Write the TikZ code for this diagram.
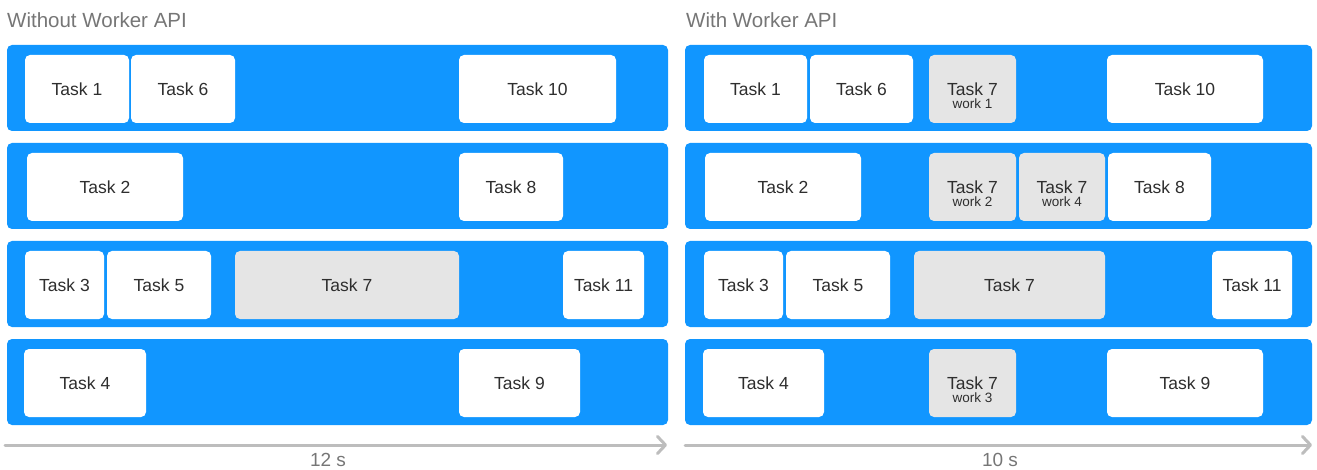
\documentclass[tikz,border=0pt]{standalone}
\usepackage{fontspec}
\setmainfont{Liberation Sans}
\usetikzlibrary{arrows.meta}
\definecolor{laneblue}{HTML}{1196FF}
\definecolor{taskgray}{HTML}{E5E5E5}
\definecolor{tasktext}{HTML}{2E2E2E}
\definecolor{titlegray}{HTML}{767676}
\definecolor{axisgray}{HTML}{BDBDBD}
\tikzset{
  lane/.style={fill=laneblue, draw=none, rounded corners=5pt},
  task/.style={fill=white, draw=none, rounded corners=5pt, inner sep=0pt, outer sep=0pt,
    minimum height=68pt, text=tasktext, font=\fontsize{17.5}{20}\selectfont},
  graytask/.style={task, fill=taskgray},
  worklbl/.style={text=tasktext, font=\fontsize{13.5}{15}\selectfont, inner sep=0pt},
  title/.style={text=titlegray, font=\fontsize{20.5}{24}\selectfont, anchor=west, inner sep=0pt},
  axislbl/.style={text=titlegray, font=\fontsize{19}{22}\selectfont, inner sep=0pt},
  axis/.style={draw=axisgray, line width=3pt, line cap=round,
    -{Straight Barb[length=8pt, width=17pt, line width=3pt, round]}}
}
\newcommand\tbox[6]{\node[#2, minimum width=#4pt-#3pt] (#1) at ({(#3+#4)/2}, #5) {#6};}
\begin{document}
\begin{tikzpicture}[x=1pt, y=-1pt]
\useasboundingbox (0,0) rectangle (1317,470);
% titles
\node[title] (tl) at (7,20) {Without Worker API};
\node[title] (tr) at (686,20) {With Worker API};
% lanes
\foreach \yy in {45,143,241,339} {
  \fill[lane] (7,\yy) rectangle (668,\yy+86);
  \fill[lane] (685,\yy) rectangle (1312,\yy+86);
}
% left tasks
\tbox{l1}{task}{25}{129}{89}{Task 1}
\tbox{l6}{task}{131}{235}{89}{Task 6}
\tbox{l10}{task}{459}{616}{89}{Task 10}
\tbox{l2}{task}{27}{183}{187}{Task 2}
\tbox{l8}{task}{459}{563}{187}{Task 8}
\tbox{l3}{task}{25}{104}{285}{Task 3}
\tbox{l5}{task}{107}{211}{285}{Task 5}
\tbox{l7}{graytask}{235}{459}{285}{Task 7}
\tbox{l11}{task}{563}{644}{285}{Task 11}
\tbox{l4}{task}{24}{146}{383}{Task 4}
\tbox{l9}{task}{459}{580}{383}{Task 9}
% right tasks
\tbox{r1}{task}{704}{807}{89}{Task 1}
\tbox{r6}{task}{810}{913}{89}{Task 6}
\tbox{rw1}{graytask}{929}{1016}{89}{Task 7}
\tbox{r10}{task}{1107}{1263}{89}{Task 10}
\tbox{r2}{task}{705}{861}{187}{Task 2}
\tbox{rw2}{graytask}{929}{1016}{187}{Task 7}
\tbox{rw4}{graytask}{1019}{1105}{187}{Task 7}
\tbox{r8}{task}{1108}{1211}{187}{Task 8}
\tbox{r3}{task}{704}{783}{285}{Task 3}
\tbox{r5}{task}{786}{890}{285}{Task 5}
\tbox{r7}{graytask}{914}{1105}{285}{Task 7}
\tbox{r11}{task}{1212}{1292}{285}{Task 11}
\tbox{r4}{task}{703}{824}{383}{Task 4}
\tbox{rw3}{graytask}{929}{1016}{383}{Task 7}
\tbox{r9}{task}{1107}{1263}{383}{Task 9}
% work labels
\node[worklbl] (w1) at ([yshift=-15pt]rw1.center) {work 1};
\node[worklbl] (w2) at ([yshift=-15pt]rw2.center) {work 2};
\node[worklbl] (w4) at ([yshift=-15pt]rw4.center) {work 4};
\node[worklbl] (w3) at ([yshift=-15pt]rw3.center) {work 3};
% axes
\coordinate (als) at (5,445);
\coordinate (ale) at (667,445);
\coordinate (ars) at (685,445);
\coordinate (are) at (1312,445);
\draw[axis] (als) -- (ale);
\draw[axis] (ars) -- (are);
\node[axislbl] (lt) at (328,460) {12 s};
\node[axislbl] (rt) at (1000,460) {10 s};
\end{tikzpicture}
\end{document}
